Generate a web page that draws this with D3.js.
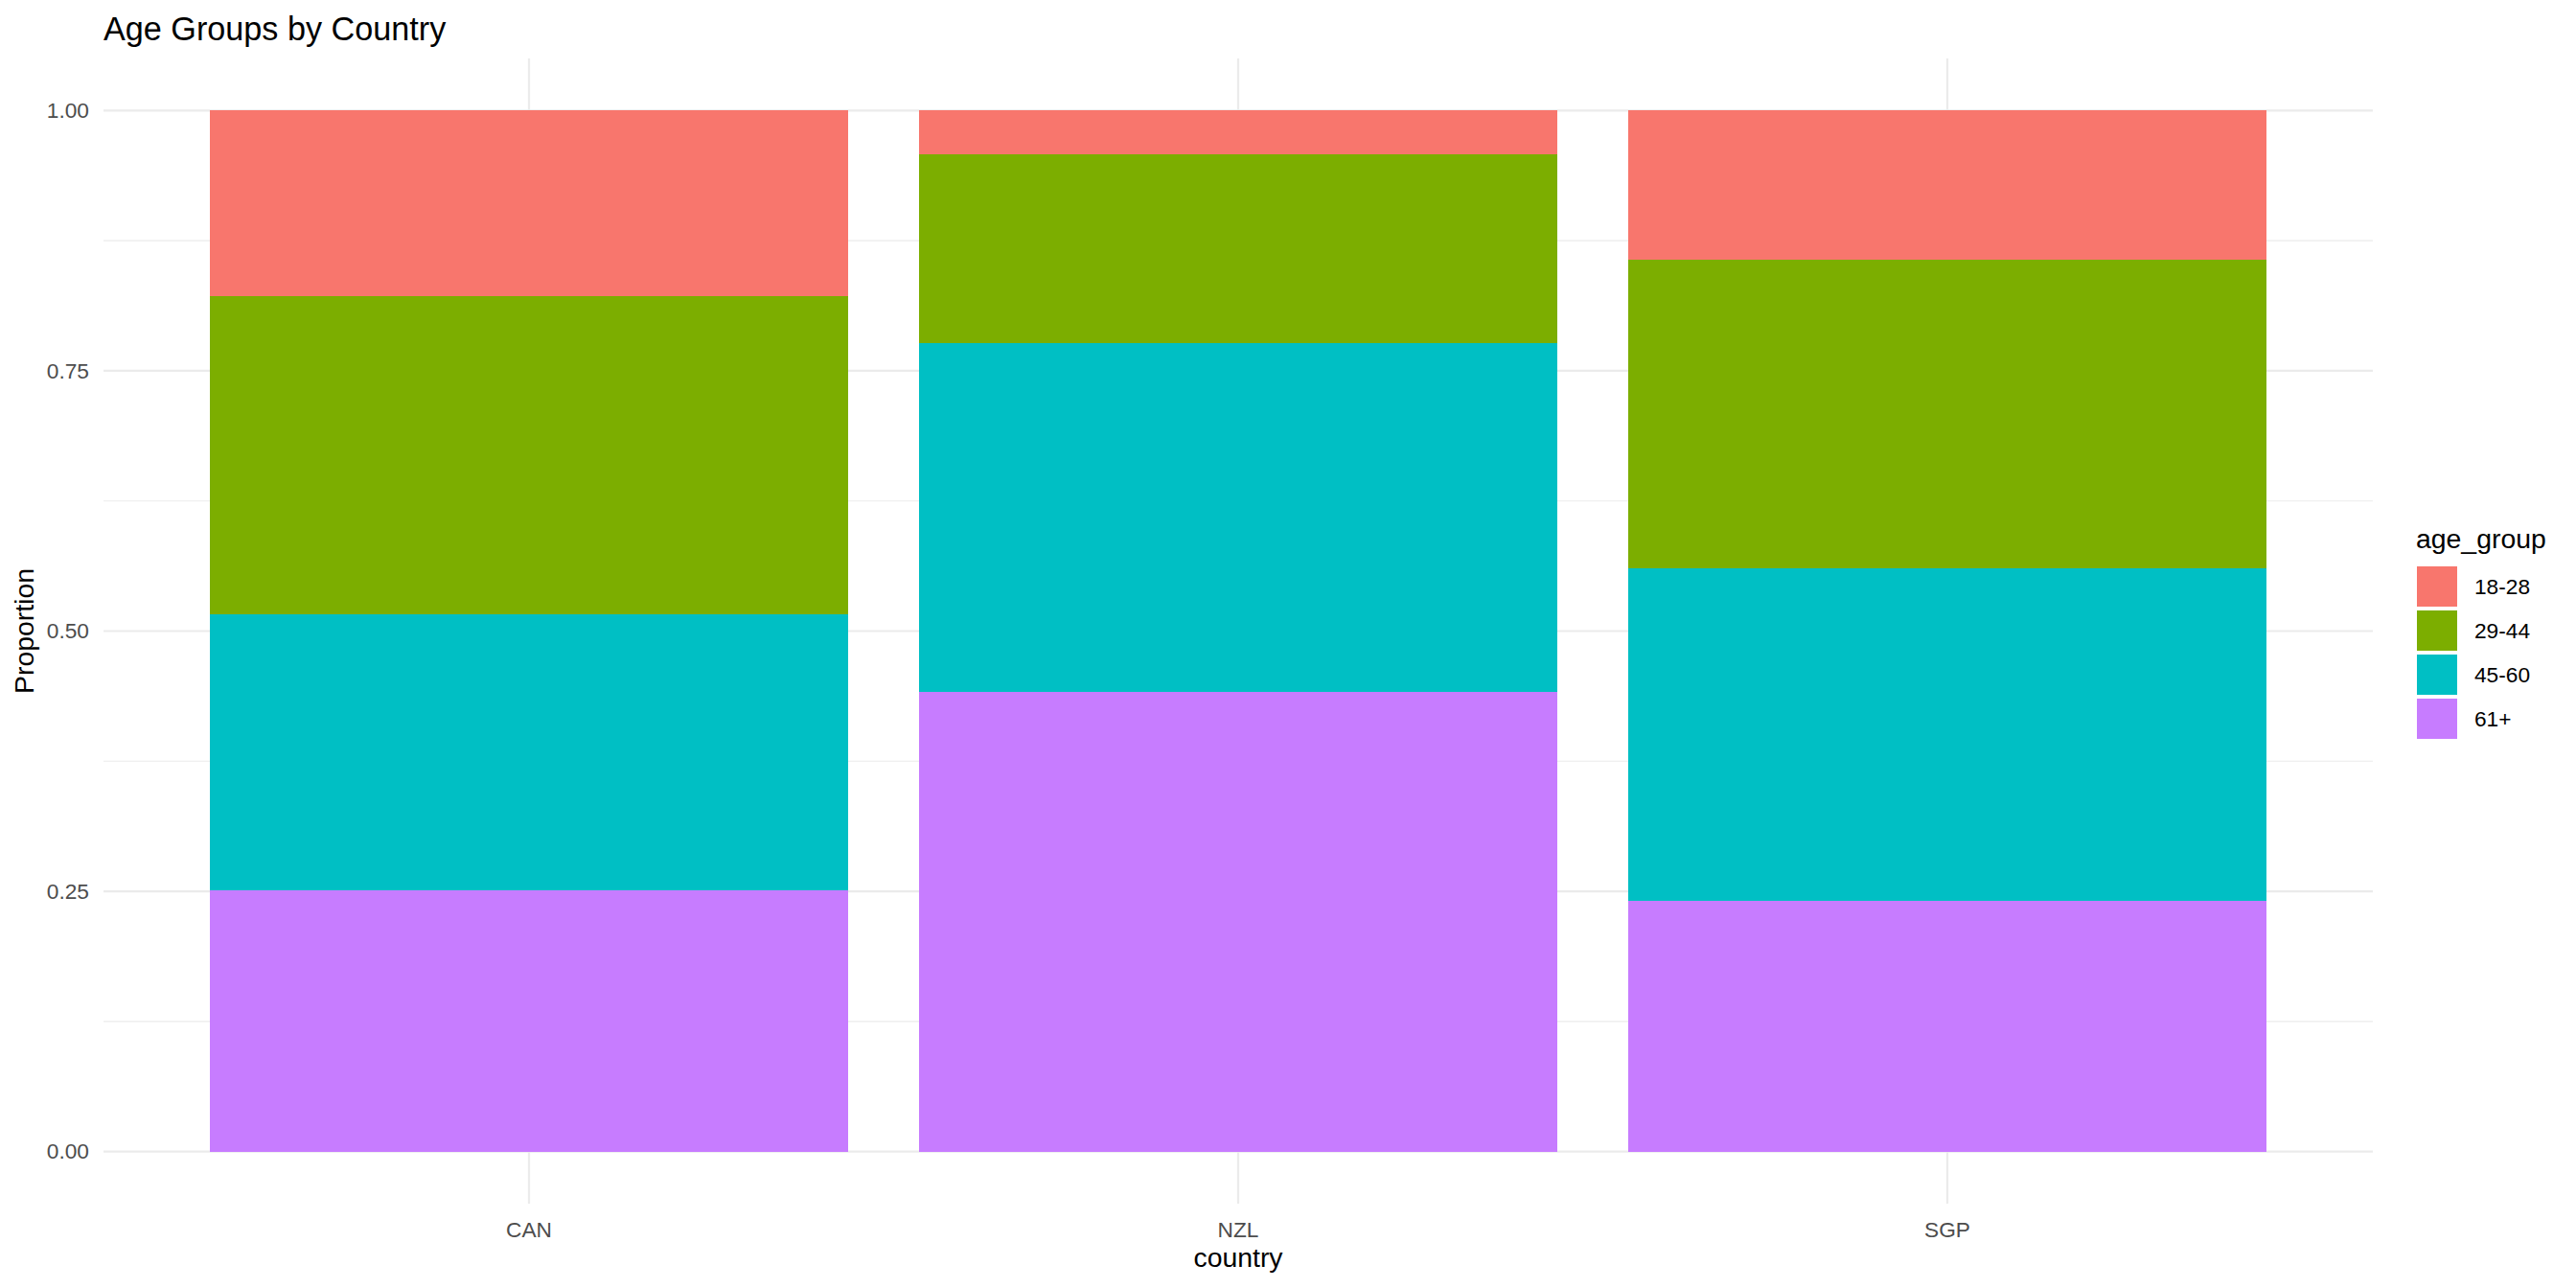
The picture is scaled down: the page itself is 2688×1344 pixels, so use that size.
<!DOCTYPE html>
<html>
<head>
<meta charset="utf-8">
<script src="https://cdn.jsdelivr.net/npm/d3@7"></script>
<style>
  html, body { margin: 0; padding: 0; background: #fff; }
  svg { display: block; font-family: "Liberation Sans", Arial, sans-serif; }
</style>
</head>
<body>
<svg id="chart" width="2688" height="1344"></svg>
<script>
const countries = ["CAN", "NZL", "SGP"];
const ageGroups = ["18-28", "29-44", "45-60", "61+"];
const colors = ["#F8766D", "#7CAE00", "#00BFC4", "#C77CFF"];
// proportions by country for each age group
const p18_28 = [0.178, 0.042, 0.143];
const p29_44 = [0.306, 0.181, 0.297];
const p45_60 = [0.265, 0.335, 0.319];
const p61 = [0.251, 0.442, 0.241];
const yTicks = [0, 0.25, 0.5, 0.75, 1.0];
const yMinor = [0.125, 0.375, 0.625, 0.875];

const seriesVals = { "18-28": p18_28, "29-44": p29_44, "45-60": p45_60, "61+": p61 };
const rows = countries.map((c, i) => {
  const r = { country: c };
  ageGroups.forEach(g => r[g] = seriesVals[g][i]);
  return r;
});

const svg = d3.select("#chart");
const pLeft = 108, pRight = 2476, pTop = 61, pBottom = 1256;

const x = d3.scaleBand().domain(countries).range([pLeft, pRight])
  .paddingInner(0.1).paddingOuter(0.15);
const y = d3.scaleLinear().domain([-0.05, 1.05]).range([pBottom, pTop]);
const color = d3.scaleOrdinal().domain(ageGroups).range(colors);

// gridlines
const grid = svg.append("g");
grid.selectAll(".minor").data(yMinor).join("line")
  .attr("x1", pLeft).attr("x2", pRight)
  .attr("y1", d => y(d)).attr("y2", d => y(d))
  .attr("stroke", "#EBEBEB").attr("stroke-width", 1.1);
grid.selectAll(".major").data(yTicks).join("line")
  .attr("x1", pLeft).attr("x2", pRight)
  .attr("y1", d => y(d)).attr("y2", d => y(d))
  .attr("stroke", "#EBEBEB").attr("stroke-width", 2.2);
grid.selectAll(".vmajor").data(countries).join("line")
  .attr("x1", d => x(d) + x.bandwidth() / 2).attr("x2", d => x(d) + x.bandwidth() / 2)
  .attr("y1", pTop).attr("y2", pBottom)
  .attr("stroke", "#EBEBEB").attr("stroke-width", 2.2);

// stacked bars: first level on top
const stack = d3.stack().keys(ageGroups.slice().reverse());
const stacked = stack(rows);
svg.append("g").attr("shape-rendering", "crispEdges")
  .selectAll("g").data(stacked).join("g")
  .attr("fill", d => color(d.key))
  .selectAll("rect").data(d => d).join("rect")
  .attr("x", d => x(d.data.country))
  .attr("width", x.bandwidth())
  .attr("y", d => y(d[1]))
  .attr("height", d => y(d[0]) - y(d[1]));

// axes
const yAxis = svg.append("g").attr("transform", `translate(${pLeft},0)`)
  .call(d3.axisLeft(y).tickValues(yTicks).tickFormat(d3.format(".2f")).tickSize(0).tickPadding(15));
yAxis.select(".domain").remove();
yAxis.selectAll("text").attr("font-size", 22.7).attr("fill", "#4D4D4D")
  .attr("font-family", "Liberation Sans, Arial, sans-serif");

const xAxis = svg.append("g").attr("transform", `translate(0,${pBottom})`)
  .call(d3.axisBottom(x).tickSize(0).tickPadding(19));
xAxis.select(".domain").remove();
xAxis.selectAll("text").attr("font-size", 22.7).attr("fill", "#4D4D4D")
  .attr("font-family", "Liberation Sans, Arial, sans-serif");

// titles
svg.append("text").attr("x", 108).attr("y", 42)
  .attr("font-size", 34.2).attr("fill", "#000").text("Age Groups by Country");
svg.append("text").attr("x", (pLeft + pRight) / 2).attr("y", 1322)
  .attr("text-anchor", "middle").attr("font-size", 28.4).attr("fill", "#000").text("country");
svg.append("text").attr("transform", `translate(35,${(pTop + pBottom) / 2}) rotate(-90)`)
  .attr("text-anchor", "middle").attr("font-size", 28.4).attr("fill", "#000").text("Proportion");

// legend
const lg = svg.append("g");
lg.append("text").attr("x", 2521).attr("y", 572).attr("font-size", 28.4).attr("fill", "#000").text("age_group");
ageGroups.forEach((k, i) => {
  const yy = 591 + i * 46;
  lg.append("rect").attr("x", 2522).attr("y", yy).attr("width", 42).attr("height", 42).attr("fill", color(k));
  lg.append("text").attr("x", 2582).attr("y", yy + 29).attr("font-size", 22.7).attr("fill", "#000").text(k);
});
</script>
</body>
</html>
